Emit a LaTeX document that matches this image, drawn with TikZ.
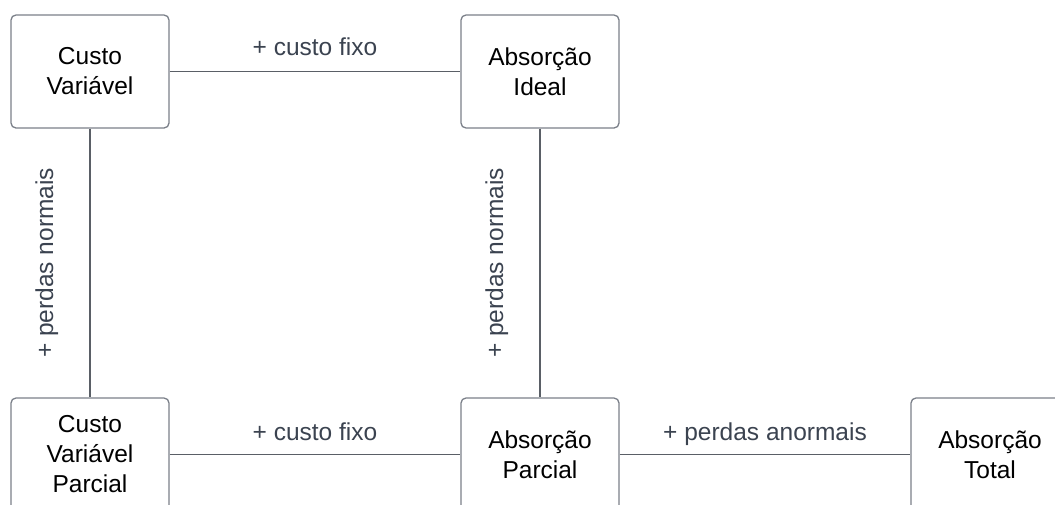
\documentclass[tikz,border=0pt]{standalone}
\usepackage{fontspec}
\setmainfont{Liberation Sans}
\definecolor{boxline}{HTML}{7B8089}
\definecolor{conn}{HTML}{5A5F66}
\definecolor{lbl}{HTML}{3B4350}
\begin{document}
\begin{tikzpicture}[x=1pt,y=-1pt,
  stepbox/.style={draw=boxline, line width=1.3pt, rounded corners=5pt, fill=white,
    minimum width=158pt, minimum height=113pt, inner sep=0pt, align=center,
    font=\fontsize{24.5}{30}\selectfont, text=black},
  conline/.style={draw=conn, line width=1.3pt},
  lab/.style={font=\fontsize{24.5}{30}\selectfont, text=lbl, inner sep=0pt}]
\useasboundingbox (0,0) rectangle (1055,504);
\clip (0,0) rectangle (1055,504);
\fill[white] (0,0) rectangle (1055,504);
\node[stepbox] (cv) at (90,71.5) {Custo\\Variável};
\node[stepbox] (ai) at (540,71.5) {Absorção\\Ideal};
\node[stepbox] (cvp) at (90,454.5) {Custo\\Variável\\Parcial};
\node[stepbox] (ap) at (540,454.5) {Absorção\\Parcial};
\node[stepbox] (at) at (990,454.5) {Absorção\\Total};
\draw[conline] (cv.east) -- node[lab, anchor=base, yshift=16.5pt] {+ custo fixo} (ai.west);
\draw[conline] (cvp.east) -- node[lab, anchor=base, yshift=14.5pt] {+ custo fixo} (ap.west);
\draw[conline] (ap.east) -- node[lab, anchor=base, yshift=14.5pt] {+ perdas anormais} (at.west);
\draw[conline] (cv.south) -- node[lab, rotate=90, anchor=base, xshift=0pt, yshift=37pt] {+ perdas normais} (cvp.north);
\draw[conline] (ai.south) -- node[lab, rotate=90, anchor=base, yshift=37pt] {+ perdas normais} (ap.north);
\end{tikzpicture}
\end{document}
